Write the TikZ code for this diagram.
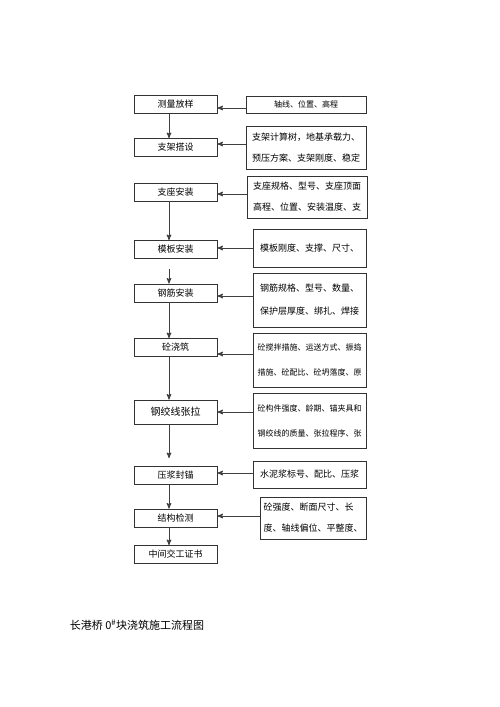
\documentclass[tikz,border=0pt]{standalone}
\usepackage{fontspec}
\newfontfamily\cjk{Noto Sans CJK SC}
\usetikzlibrary{arrows}

\begin{document}
\begin{tikzpicture}[>=stealth',x=1pt,y=-1pt,
        stepbox/.style={draw=black!80,line width=0.8pt,minimum width=83pt,minimum height=18pt,inner sep=0pt,font=\cjk\fontsize{9}{11}\selectfont},
        checkbox/.style={draw=black!80,line width=0.8pt,inner sep=0pt,align=left,font=\cjk\fontsize{9}{21}\selectfont},
        small/.style={font=\cjk\fontsize{8}{25}\selectfont},
        link/.style={->,line width=1pt,draw=black!75}]
        \useasboundingbox (0,0) rectangle (500,707);
        % construction steps
        \node[stepbox](s1) at (175.5,104.5) {测量放样};
        \node[stepbox](s2) at (175.5,147.5) {支架搭设};
        \node[stepbox](s3) at (175.5,192) {支座安装};
        \node[stepbox](s4) at (175.5,249.5) {模板安装};
        \node[stepbox](s5) at (175.5,293) {钢筋安装};
        \node[stepbox](s6) at (175.5,347.5) {砼浇筑};
        \node[stepbox,minimum height=24pt,font=\cjk\fontsize{10}{12}\selectfont](s7) at (175.5,412) {钢绞线张拉};
        \node[stepbox](s8) at (175.5,475.5) {压浆封锚};
        \node[stepbox](s9) at (175.5,518) {结构检测};
        \node[stepbox](s10) at (175.5,554.5) {中间交工证书};
        % check items
        \node[checkbox,font=\cjk\fontsize{8}{10}\selectfont,minimum width=120pt,minimum height=17pt](c1) at (306,104.5) {轴线、位置、高程};
        \node[checkbox,minimum width=120pt,minimum height=43pt](c2) at (306,147.5) {支架计算树，地基承载力、\\预压方案、支架刚度、稳定};
        \node[checkbox,minimum width=120pt,minimum height=42pt](c3) at (307,197) {支座规格、型号、支座顶面\\高程、位置、安装温度、支};
        \node[checkbox,minimum width=113pt,minimum height=38pt](c4) at (309.5,248) {模板刚度、支撑、尺寸、};
        \node[checkbox,minimum width=113pt,minimum height=54pt,font=\cjk\fontsize{9}{23}\selectfont](c5) at (309.5,300) {钢筋规格、型号、数量、\\保护层厚度、绑扎、焊接};
        \node[checkbox,small,minimum width=113pt,minimum height=54pt](c6) at (309.5,360) {砼搅拌措施、运送方式、振捣\\措施、砼配比、砼坍落度、原};
        \node[checkbox,small,minimum width=113pt,minimum height=55pt](c7) at (309.5,420.5) {砼构件强度、龄期、锚夹具和\\钢绞线的质量、张拉程序、张};
        \node[checkbox,minimum width=113pt,minimum height=27pt](c8) at (309.5,474.5) {水泥浆标号、配比、压浆};
        \node[checkbox,minimum width=106pt,minimum height=42pt](c9) at (313,518) {砼强度、断面尺寸、长\\度、轴线偏位、平整度、};
        \node[font=\cjk\fontsize{11}{13}\selectfont](title) at (137,625) {长港桥 0\textsuperscript{\#}块浇筑施工流程图};
        % flow
        \foreach \a/\b in {s1/s2,s3/s4,s5/s6,s6/s7,s8/s9,s9/s10}
            \draw[link] ([xshift=-6.5pt]\a.south) -- ([xshift=-6.5pt]\b.north);
        \draw[link,shorten <=10pt] ([xshift=-6.5pt]s4.south) -- ([xshift=-6.5pt]s5.north);
        \draw[link,shorten >=8pt] ([xshift=-6.5pt]s7.south) -- ([xshift=-6.5pt]s8.north);
        \foreach \i/\dy in {1/-3.5,2/3.5,3/-2,4/1.5,5/-3,6/-6.5,7/0,8/2.5,9/2}
            \draw[link] ([yshift=\dy pt]c\i.west |- s\i) -- ([yshift=\dy pt]s\i.east);
    \end{tikzpicture}
\end{document}
